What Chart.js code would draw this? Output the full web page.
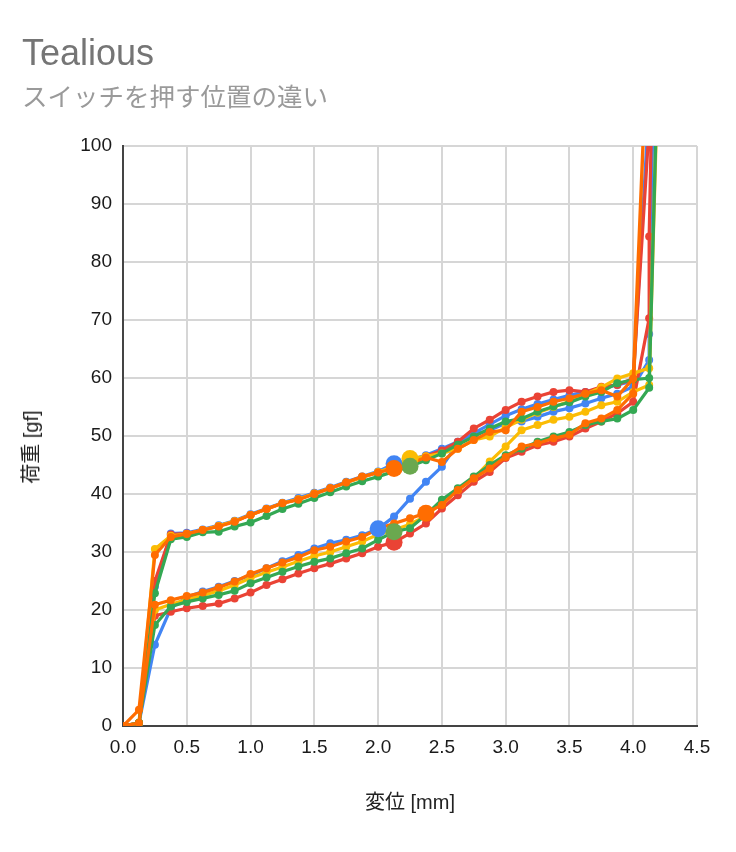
<!DOCTYPE html>
<html>
<head>
<meta charset="utf-8">
<script src="https://cdn.jsdelivr.net/npm/chart.js@4/dist/chart.umd.min.js"></script>
<style>
  body { margin: 0; background: #fff; }
  #wrap { position: relative; width: 736px; height: 852px; background: #fff; overflow: hidden; }
  #c { position: absolute; left: 0; top: 0; }
  .txt { position: absolute; white-space: nowrap; }
  #title { left: 22px; top: 35px; font: 36px/36px "Liberation Sans", Arial, sans-serif; color: #757575; }
  #subtitle { left: 22px; top: 82px; font: 25.5px/25.5px "Noto Sans CJK JP", sans-serif; color: #9a9a9a; }
  .axt { font: 20px/22px "Liberation Sans", Arial, "Noto Sans CJK JP", sans-serif; color: #222; }
  #ytitle { left: 31px; top: 447px; transform: translate(-50%, -50%) rotate(-90deg); }
  #xtitle { left: 410px; top: 802px; transform: translate(-50%, -50%); }
</style>
</head>
<body>
<div id="wrap">
  <canvas id="c" width="736" height="852"></canvas>
  <div class="txt" id="title">Tealious</div>
  <div class="txt" id="subtitle">スイッチを押す位置の違い</div>
  <div class="txt axt" id="ytitle">荷重 [gf]</div>
  <div class="txt axt" id="xtitle">変位 [mm]</div>
</div>
<script>
// displacement steps (mm) shared by press and release curves
var pressX = [0, 0.125, 0.25, 0.375, 0.5, 0.625, 0.75, 0.875, 1, 1.125, 1.25, 1.375, 1.5, 1.625, 1.75, 1.875,
  2, 2.125, 2.25, 2.375, 2.5, 2.625, 2.75, 2.875, 3, 3.125, 3.25, 3.375, 3.5, 3.625, 3.75, 3.875, 4];

// blue
var bluePress = [0, 0.5, 24, 33.2, 33.3, 33.9, 34.6, 35.4, 36.5, 37.5, 38.5, 39.3, 40.2, 41.1, 42.1, 43,
  43.9, 45.2, 45.8, 46.7, 47.8, 49, 50.5, 52, 53.5, 54.6, 55.5, 56.3, 57, 57.6, 58.2, 58.8, 59.5];
var blueRelease = [0, 0.5, 14, 20.3, 22.2, 23.2, 24, 25, 26, 27.2, 28.4, 29.5, 30.6, 31.5, 32.1, 32.9,
  34, 36.1, 39.2, 42.1, 44.7, 48.7, 50.2, 51, 52.2, 52.5, 53.3, 54.2, 54.8, 55.6, 56.5, 57.3, 58.5];
var blueTopX = [4.17, 4.125, 4.125];
var blueTopY = [125, 67.6, 63.1];
var blueMarkX = [2.125, 2.0];
var blueMarkY = [45.2, 34.0];

// red
var redPress = [0, 0.5, 25, 33, 33.2, 33.8, 34.5, 35.3, 36.4, 37.4, 38.4, 39.1, 40.1, 41, 42, 42.9,
  43.7, 44.6, 45.5, 46.5, 47.5, 49, 51.3, 52.8, 54.5, 55.9, 56.8, 57.6, 57.9, 57.6, 58.5, 58.8, 59.9];
var redRelease = [0, 0.5, 19, 19.7, 20.3, 20.7, 21.1, 22, 23, 24.3, 25.3, 26.3, 27.2, 28, 28.9, 29.8,
  30.9, 31.7, 33.2, 34.9, 37.5, 39.8, 42.1, 43.8, 46.2, 47.3, 48.4, 49, 49.9, 51.3, 52.5, 53.9, 55.9];
var redTopX = [4.15, 4.125, 4.125];
var redTopY = [112, 84.4, 70.3];
var redMarkX = [2.125];
var redMarkY = [31.7];

// yellow
var yellowPress = [0, 0.5, 30.5, 32.8, 33.1, 33.8, 34.5, 35.3, 36.4, 37.4, 38.4, 39.1, 40.1, 41, 42, 42.9,
  43.8, 44.7, 46.1, 46.5, 47, 47.8, 49.3, 49.9, 51.5, 52.8, 54, 55, 56, 57.2, 58.4, 59.9, 60.8];
var yellowRelease = [0, 0.5, 20, 21, 21.8, 22.5, 23.3, 24.3, 25.5, 26.5, 27.4, 28.4, 29.3, 30, 30.9, 31.8,
  33, 33.8, 34.8, 36.2, 38.5, 40.7, 42.7, 45.6, 48.2, 51, 51.9, 52.8, 53.3, 54.2, 55.3, 55.9, 57.6];
var yellowTopX = [4.125, 4.21, 4.125];
var yellowTopY = [61.7, 125, 58.8];
var yellowMarkX = [2.25];
var yellowMarkY = [46.1];

// green
var greenPress = [0, 0.5, 22.9, 32.2, 32.6, 33.4, 33.5, 34.4, 35.1, 36.2, 37.4, 38.3, 39.3, 40.3, 41.3, 42.2,
  43, 43.9, 44.8, 45.8, 47, 48.5, 49.9, 51.3, 52.5, 53, 54.2, 55.1, 55.8, 56.8, 57.6, 59.1, 59.7];
var greenRelease = [0, 0.5, 17.4, 20.6, 21.4, 22, 22.6, 23.3, 24.6, 25.6, 26.6, 27.5, 28.3, 28.9, 29.8, 30.6,
  32.1, 33.5, 34.1, 36.4, 39, 41, 43, 45, 46.7, 47.8, 49, 49.9, 50.7, 51.9, 52.5, 53, 54.5];
var greenTopX = [4.125, 4.2, 4.125];
var greenTopY = [60, 120, 58.3];
var greenMarkX = [2.25, 2.125];
var greenMarkY = [44.8, 33.5];

// orange
var orangePress = [0, 2.8, 29.5, 32.6, 33.1, 33.8, 34.4, 35.2, 36.4, 37.4, 38.4, 39, 40, 41, 42, 43,
  43.7, 44.4, 45.3, 46.3, 45.5, 47.8, 49.3, 50.7, 51, 54.2, 55, 55.9, 56.5, 57.3, 57.9, 56.8, 59.9];
var orangeRelease = [0, 0.5, 20.9, 21.7, 22.4, 23, 23.9, 24.9, 26.2, 27.2, 28.2, 29.1, 30.3, 30.9, 31.8, 32.6,
  34, 34.9, 35.8, 36.7, 38.1, 40.7, 42.7, 44.4, 46.4, 48.2, 48.7, 49.6, 50.2, 52.2, 53, 54.5, 57.3];
var orangeTopX = [4.1];
var orangeTopY = [113];
var orangeMarkX = [2.125, 2.375];
var orangeMarkY = [44.4, 36.7];

var xTicks = [0, 0.5, 1, 1.5, 2, 2.5, 3, 3.5, 4, 4.5];
var yTicks = [0, 10, 20, 30, 40, 50, 60, 70, 80, 90, 100];

var series = [
  {name: "blue", color: "#4285f4", mark: "#4285f4", press: bluePress, release: blueRelease, topX: blueTopX, topY: blueTopY, markX: blueMarkX, markY: blueMarkY},
  {name: "red", color: "#ea4335", mark: "#ea4335", press: redPress, release: redRelease, topX: redTopX, topY: redTopY, markX: redMarkX, markY: redMarkY},
  {name: "yellow", color: "#fbbc04", mark: "#fbbc04", press: yellowPress, release: yellowRelease, topX: yellowTopX, topY: yellowTopY, markX: yellowMarkX, markY: yellowMarkY},
  {name: "green", color: "#34a853", mark: "#6aa84f", press: greenPress, release: greenRelease, topX: greenTopX, topY: greenTopY, markX: greenMarkX, markY: greenMarkY},
  {name: "orange", color: "#ff6d01", mark: "#ff6d01", press: orangePress, release: orangeRelease, topX: orangeTopX, topY: orangeTopY, markX: orangeMarkX, markY: orangeMarkY}
];

var datasets = [];
series.forEach(function (s, k) {
  var pts = [], i;
  for (i = 0; i < pressX.length; i++) pts.push({x: pressX[i], y: s.press[i]});
  for (i = 0; i < s.topX.length; i++) pts.push({x: s.topX[i], y: s.topY[i]});
  for (i = pressX.length - 1; i >= 0; i--) pts.push({x: pressX[i], y: s.release[i]});
  datasets.push({
    label: s.name,
    data: pts,
    borderColor: s.color,
    backgroundColor: s.color,
    pointBackgroundColor: s.color,
    pointBorderWidth: 0,
    pointRadius: 4,
    borderWidth: 3.2,
    tension: 0,
    order: 10 - k
  });
  var marks = [];
  for (i = 0; i < s.markX.length; i++) marks.push({x: s.markX[i], y: s.markY[i]});
  datasets.push({
    label: s.name + " mark",
    data: marks,
    showLine: false,
    pointBackgroundColor: s.mark,
    borderColor: s.mark,
    pointBorderWidth: 0,
    pointRadius: 8.5,
    order: -1 - k
  });
});

var tickFont = {family: "'Liberation Sans', Arial, sans-serif", size: 19};

new Chart(document.getElementById("c"), {
  type: "line",
  data: {datasets: datasets},
  options: {
    responsive: false,
    animation: false,
    devicePixelRatio: 1,
    layout: {padding: {top: 146, right: 39, left: 0, bottom: 0}},
    plugins: {legend: {display: false}, tooltip: {enabled: false}, title: {display: false}},
    scales: {
      x: {
        type: "linear",
        min: 0, max: 4.5,
        afterBuildTicks: function (s) { s.ticks = xTicks.map(function (v) { return {value: v}; }); },
        afterFit: function (s) { s.height = 126; },
        ticks: {color: "#1a1a1a", font: tickFont, padding: 10, maxRotation: 0,
          callback: function (v) { return Number(v).toFixed(1); }},
        grid: {color: "#d6d6d6", lineWidth: 2, drawTicks: false},
        border: {color: "#444", width: 2}
      },
      y: {
        type: "linear",
        min: 0, max: 100,
        afterBuildTicks: function (s) { s.ticks = yTicks.map(function (v) { return {value: v}; }); },
        afterFit: function (s) { s.width = 123; },
        ticks: {color: "#1a1a1a", font: tickFont, padding: 11},
        grid: {color: "#d6d6d6", lineWidth: 2, drawTicks: false},
        border: {color: "#444", width: 2}
      }
    }
  }
});
</script>
</body>
</html>
